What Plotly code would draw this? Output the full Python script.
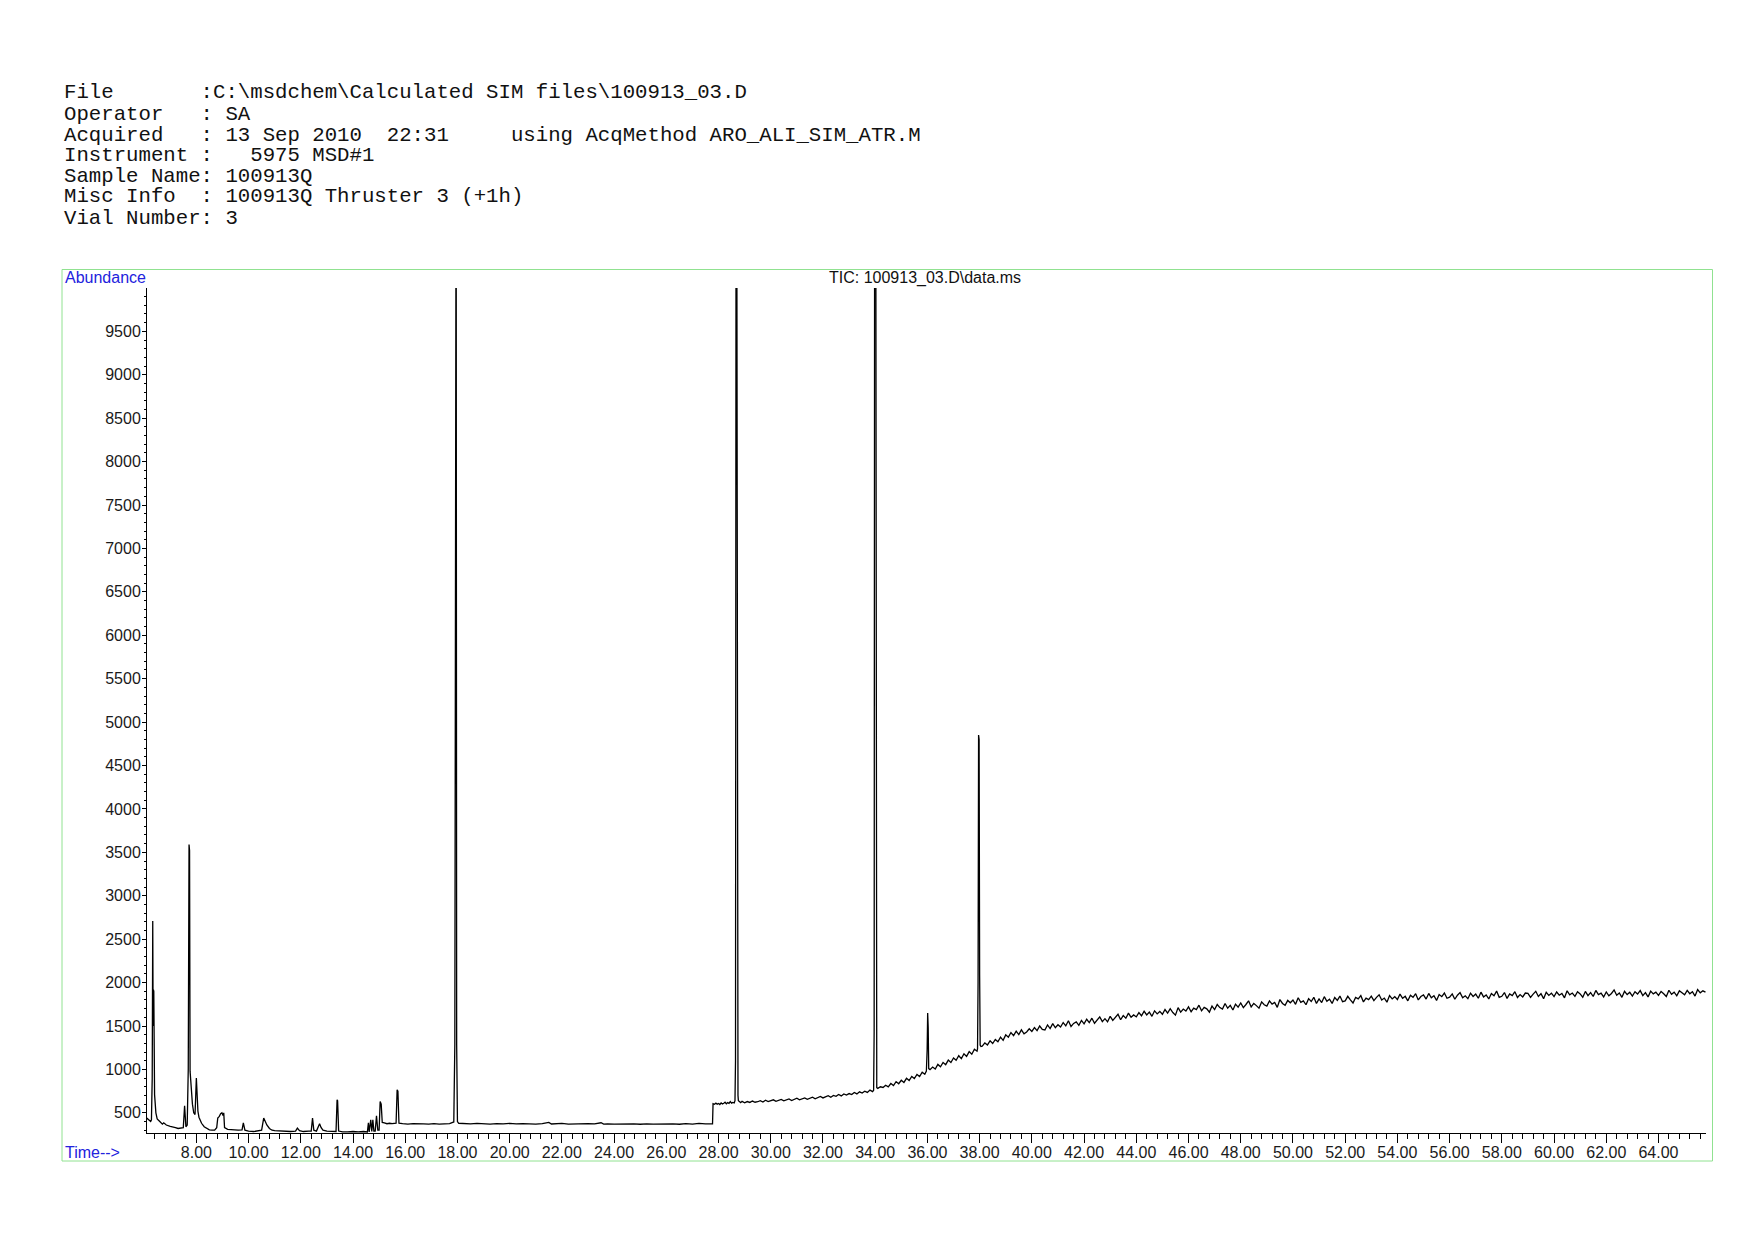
import plotly.graph_objects as go

# ---------------- data ----------------
early_time = [6.10, 6.15, 6.20, 6.25, 6.28, 6.31, 6.33, 6.345, 6.355, 6.37,
              6.40, 6.45, 6.50, 6.60, 6.70, 6.75, 6.85, 7.00, 7.10, 7.20,
              7.30, 7.40, 7.50, 7.55, 7.60, 7.65, 7.69, 7.72, 7.74, 7.76,
              7.80, 7.85, 7.90, 7.95, 8.00, 8.03, 8.06, 8.10, 8.20, 8.30,
              8.40, 8.50, 8.60, 8.70, 8.78, 8.82, 8.88, 8.93, 8.98, 9.02,
              9.05, 9.08, 9.20, 9.40, 9.60, 9.75, 9.80, 9.86, 10.00, 10.20,
              10.40, 10.50, 10.58, 10.62, 10.70, 10.80, 10.90, 11.00, 11.20, 11.40,
              11.60, 11.80, 11.87, 11.95, 12.10, 12.30, 12.40, 12.45, 12.50, 12.60,
              12.72, 12.78, 12.85, 13.00, 13.20, 13.35, 13.39, 13.41, 13.45, 13.60,
              13.80, 14.00, 14.20, 14.40, 14.55, 14.59, 14.62, 14.68, 14.72, 14.76,
              14.80, 14.85, 14.90, 14.95, 15.00, 15.04, 15.08, 15.12, 15.20, 15.30,
              15.40, 15.50, 15.65, 15.69, 15.72, 15.76, 15.90, 16.10, 16.30, 16.50,
              16.70, 16.90, 17.10, 17.30, 17.50, 17.70, 17.82, 17.86, 17.90, 17.93,
              17.95, 17.97, 18.00, 18.05]
early_abund = [440, 430, 410, 400, 420, 900, 2710, 1500, 1920, 1900,
               710, 500, 430, 400, 370, 385, 360, 345, 340, 330,
               320, 325, 330, 580, 340, 360, 1000, 3590, 3520, 980,
               800, 600, 500, 480, 900, 620, 520, 450, 380, 340,
               320, 305, 300, 300, 330, 440, 460, 490, 500, 470,
               500, 330, 310, 305, 300, 305, 385, 300, 290, 285,
               290, 300, 440, 410, 360, 320, 300, 295, 290, 290,
               285, 290, 325, 295, 285, 290, 290, 440, 300, 290,
               375, 330, 300, 290, 285, 285, 650, 640, 290, 280,
               280, 285, 280, 285, 280, 385, 280, 420, 285, 420,
               290, 290, 465, 300, 300, 630, 600, 390, 385, 375,
               380, 375, 380, 765, 750, 380, 375, 370, 375, 370,
               372, 370, 375, 370, 370, 375, 390, 395, 1290, 12000,
               12000, 1290, 400, 380]

mid_time = [18.25, 18.50, 18.75, 19.00, 19.25, 19.50, 19.75, 20.00, 20.25, 20.50,
            20.75, 21.00, 21.25, 21.50, 21.60, 21.75, 22.00, 22.25, 22.50, 22.75,
            23.00, 23.25, 23.50, 23.60, 23.75, 24.00, 24.25, 24.50, 24.75, 25.00,
            25.25, 25.50, 25.75, 26.00, 26.25, 26.50, 26.75, 27.00, 27.25, 27.50,
            27.77]
mid_abund = [376, 372, 378, 374, 371, 377, 373, 379, 372, 376,
             374, 370, 377, 390, 372, 375, 378, 371, 374, 369,
             376, 372, 386, 371, 374, 370, 373, 368, 372, 369,
             374, 370, 373, 368, 372, 369, 375, 371, 378, 373,
             374]

late_time = [27.79, 27.85, 27.90, 27.95, 28.00, 28.05, 28.10, 28.15, 28.20, 28.25,
             28.30, 28.35, 28.40, 28.45, 28.50, 28.55, 28.60, 28.63, 28.65, 28.67,
             28.70, 28.715, 28.73, 28.745, 28.76, 28.80, 28.85, 28.90, 29.00, 29.10,
             29.20, 29.30, 29.40, 29.50, 29.60, 29.70, 29.80, 29.90, 30.00, 30.10,
             30.20, 30.30, 30.40, 30.50, 30.60, 30.70, 30.80, 30.90, 31.00, 31.10,
             31.20, 31.30, 31.40, 31.50, 31.60, 31.70, 31.80, 31.90, 32.00, 32.10,
             32.20, 32.30, 32.40, 32.50, 32.60, 32.70, 32.80, 32.90, 33.00, 33.10,
             33.20, 33.30, 33.40, 33.50, 33.60, 33.70, 33.80, 33.90, 33.94, 33.96,
             33.98, 34.02, 34.04, 34.06, 34.10, 34.20, 34.30, 34.40, 34.50, 34.60,
             34.70, 34.80, 34.90, 35.00, 35.10, 35.20, 35.30, 35.40, 35.50, 35.60,
             35.70, 35.80, 35.90, 35.96, 35.99, 36.01, 36.03, 36.05, 36.10, 36.20,
             36.30, 36.40, 36.50, 36.60, 36.70, 36.80, 36.90, 37.00, 37.10, 37.20,
             37.30, 37.40, 37.50, 37.60, 37.70, 37.80, 37.90, 37.92, 37.94, 37.96,
             37.98, 38.00, 38.02, 38.05]
late_abund = [605, 598, 612, 600, 608, 596, 615, 603, 611, 622,
              604, 618, 609, 630, 612, 620, 615, 640, 1100, 11000,
              11000, 2690, 2690, 700, 640, 628, 618, 632, 615, 630,
              620, 636, 622, 628, 640, 625, 645, 630, 638, 650,
              632, 645, 655, 638, 648, 660, 642, 655, 668, 650,
              662, 672, 655, 670, 680, 662, 676, 690, 672, 685,
              698, 680, 700, 690, 712, 695, 718, 705, 722, 710,
              735, 718, 742, 728, 750, 735, 762, 745, 760, 1440,
              12000, 12000, 1150, 790, 782, 800, 792, 818, 800, 838,
              815, 860, 835, 875, 850, 898, 872, 920, 895, 942,
              918, 968, 945, 980, 1230, 1650, 1480, 1010, 998, 1028,
              1005, 1058, 1030, 1080, 1055, 1108, 1080, 1132, 1105, 1158,
              1125, 1180, 1150, 1205, 1175, 1232, 1210, 1240, 2000, 4850,
              4800, 2090, 1280, 1265]

# tail: one scan value every 0.1 min from 38.1 to 65.8 min
tail_start = 38.1
tail_step = 0.1
tail_abund = [1268, 1305, 1282, 1330, 1298, 1345, 1318, 1372, 1335,
              1398, 1372, 1425, 1389, 1440, 1402, 1456, 1410, 1432, 1468,
              1438, 1482, 1447, 1500, 1462, 1455, 1512, 1470, 1528, 1480,
              1515, 1488, 1540, 1502, 1560, 1495, 1530, 1548, 1508, 1565,
              1525, 1578, 1540, 1590, 1532, 1568, 1605, 1550, 1585, 1548,
              1612, 1565, 1598, 1635, 1572, 1620, 1590, 1648, 1600, 1628,
              1605, 1655, 1618, 1670, 1628, 1660, 1612, 1675, 1640, 1668,
              1635, 1690, 1648, 1700, 1655, 1625, 1712, 1660, 1695, 1672,
              1720, 1665, 1705, 1688, 1740, 1675, 1715, 1698, 1660, 1730,
              1690, 1748, 1712, 1695, 1760, 1705, 1738, 1685, 1752, 1718,
              1765, 1712, 1748, 1790, 1720, 1760, 1735, 1705, 1778, 1745,
              1730, 1790, 1752, 1772, 1715, 1805, 1760, 1738, 1795, 1768,
              1800, 1750, 1825, 1772, 1790, 1745, 1815, 1782, 1830, 1760,
              1812, 1770, 1838, 1785, 1808, 1760, 1828, 1795, 1845, 1780,
              1790, 1842, 1800, 1765, 1830, 1812, 1850, 1778, 1822, 1805,
              1845, 1792, 1830, 1860, 1800, 1822, 1775, 1850, 1812, 1838,
              1805, 1868, 1820, 1842, 1790, 1855, 1830, 1872, 1800, 1840,
              1858, 1810, 1875, 1825, 1848, 1795, 1862, 1838, 1880, 1820,
              1832, 1870, 1808, 1855, 1885, 1825, 1848, 1815, 1878, 1840,
              1868, 1820, 1890, 1835, 1858, 1812, 1875, 1848, 1902, 1830,
              1842, 1885, 1818, 1870, 1850, 1895, 1828, 1862, 1835, 1880,
              1875, 1830, 1868, 1900, 1840, 1872, 1815, 1888, 1852, 1878,
              1838, 1892, 1855, 1875, 1825, 1905, 1860, 1880, 1842, 1895,
              1870, 1832, 1898, 1850, 1885, 1840, 1910, 1862, 1878, 1835,
              1892, 1848, 1875, 1915, 1855, 1880, 1830, 1900, 1862, 1888,
              1845, 1895, 1868, 1908, 1850, 1885, 1835, 1902, 1870, 1890,
              1852, 1898, 1872, 1840, 1912, 1865, 1890, 1848, 1905, 1878,
              1860, 1910, 1872, 1895, 1845, 1920, 1882, 1905, 1890]
tail_time = [round(tail_start + tail_step * i, 2) for i in range(len(tail_abund))]

y_tick_values = [500, 1000, 1500, 2000, 2500, 3000, 3500, 4000, 4500, 5000,
                 5500, 6000, 6500, 7000, 7500, 8000, 8500, 9000, 9500]
x_range = [6.11, 65.82]
y_range = [268, 9999]

header_lines = [
    "File       :C:\\msdchem\\Calculated SIM files\\100913_03.D",
    "Operator   : SA",
    "Acquired   : 13 Sep 2010  22:31     using AcqMethod ARO_ALI_SIM_ATR.M",
    "Instrument :   5975 MSD#1",
    "Sample Name: 100913Q",
    "Misc Info  : 100913Q Thruster 3 (+1h)",
    "Vial Number: 3",
]
trace_title = "TIC: 100913_03.D\\data.ms"

# ---------------- figure ----------------
time_all = early_time + mid_time + late_time + tail_time
abund_all = early_abund + mid_abund + late_abund + tail_abund

W, H = 1754, 1240
ML, MR, MT, MB = 147, 48, 288, 107
PW, PH = W - ML - MR, H - MT - MB


def px(x):
    return (x - ML) / PW


def py(y):
    return (H - MB - y) / PH


sans = "Liberation Sans, Arial, sans-serif"
mono = "Liberation Mono, Courier New, monospace"

fig = go.Figure()
fig.add_trace(go.Scatter(x=time_all, y=abund_all, mode="lines",
                         line=dict(color="black", width=1.3),
                         hoverinfo="skip", showlegend=False))

annotations = []
line_y = [92.8, 114.0, 135.0, 155.8, 176.0, 197.0, 218.0]
for txt, yy in zip(header_lines, line_y):
    annotations.append(dict(text=txt.replace(" ", "\u00a0"), xref="paper", yref="paper",
                            x=px(62), y=py(yy), xanchor="left", yanchor="middle",
                            showarrow=False,
                            font=dict(family=mono, size=20.7, color="#111111")))
annotations.append(dict(text="Abundance", xref="paper", yref="paper",
                        x=px(63), y=py(278), xanchor="left", yanchor="middle",
                        showarrow=False, font=dict(family=sans, size=16, color="#2222dd")))
annotations.append(dict(text="Time-->", xref="paper", yref="paper",
                        x=px(62.5), y=py(1152), xanchor="left", yanchor="middle",
                        showarrow=False, font=dict(family=sans, size=16, color="#2222dd")))
annotations.append(dict(text=trace_title, xref="paper", yref="paper",
                        x=px(925), y=py(278.5), xanchor="center", yanchor="middle",
                        showarrow=False, font=dict(family=sans, size=16, color="#111111")))

fig.update_layout(
    width=W, height=H,
    margin=dict(l=ML, r=MR, t=MT, b=MB, autoexpand=False),
    paper_bgcolor="white", plot_bgcolor="white",
    annotations=annotations,
    shapes=[dict(type="rect", xref="paper", yref="paper",
                 x0=px(62), x1=px(1712.5), y0=py(1161), y1=py(269.5),
                 line=dict(color="#90e290", width=1), fillcolor="rgba(0,0,0,0)",
                 layer="below")],
    xaxis=dict(range=x_range, showgrid=False, zeroline=False,
               showline=True, linecolor="black", linewidth=1,
               ticks="outside", ticklen=9, tickwidth=1, tickcolor="black",
               tickmode="linear", tick0=0, dtick=2, tickformat=".2f",
               ticklabelstandoff=-4,
               tickfont=dict(family=sans, size=16, color="#1a1a1a"),
               minor=dict(ticks="outside", ticklen=5, tickwidth=1, tickcolor="black",
                          tick0=0, dtick=0.4, showgrid=False)),
    yaxis=dict(range=y_range, showgrid=False, zeroline=False,
               showline=True, linecolor="black", linewidth=1,
               ticks="outside", ticklen=4, tickwidth=1, tickcolor="black",
               tickmode="array", tickvals=y_tick_values,
               ticktext=[str(v) for v in y_tick_values],
               ticklabelstandoff=-2,
               tickfont=dict(family=sans, size=16, color="#1a1a1a"),
               minor=dict(ticks="outside", ticklen=2, tickwidth=1, tickcolor="black",
                          tickmode="linear", tick0=0, dtick=100, showgrid=False)),
)

fig.write_html("out.html", config={"displayModeBar": False},
               post_script="document.body.style.margin='0';")
